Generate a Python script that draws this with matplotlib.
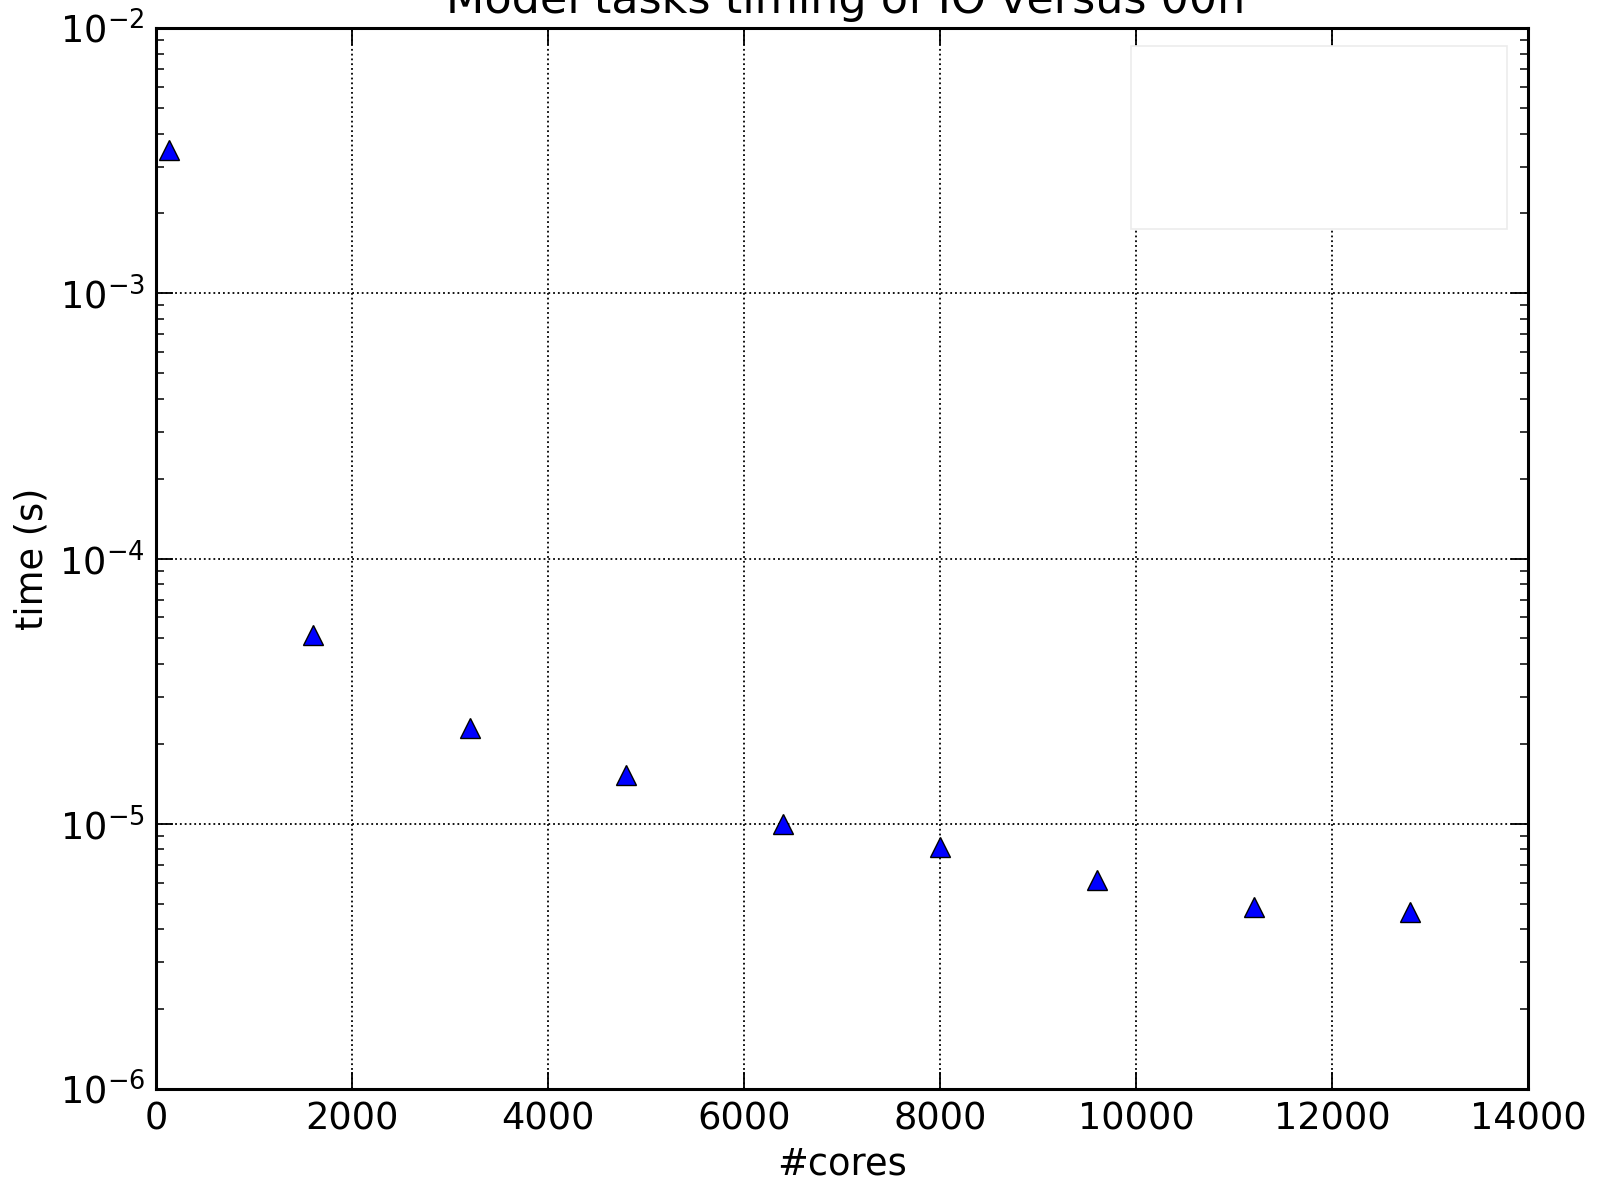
import matplotlib
matplotlib.use("Agg")
import matplotlib.pyplot as plt
from matplotlib.patches import Rectangle

# cores vs time per task
cores = [128, 1600, 3200, 4800, 6400, 8000, 9600, 11200, 12800]
times = [3.46e-3, 5.15e-5, 2.30e-5, 1.53e-5, 1.0e-5, 8.16e-6, 6.13e-6, 4.87e-6, 4.66e-6]

plt.rcParams['font.family'] = ['DejaVu Sans']
plt.rcParams['axes.unicode_minus'] = False
fig = plt.figure(figsize=(15.98, 11.8), dpi=100)
ax = fig.add_axes([156/1598, 1 - 1089/1180, 1372/1598, 1061/1180])

ax.semilogy(cores, times, linestyle="none", marker="^", markersize=14,
            markerfacecolor="#0000ff", markeredgecolor="black", markeredgewidth=1.0,
            zorder=5)

ax.set_xlim(0, 14000)
ax.set_ylim(1e-6, 1e-2)
ax.set_xticks(range(0, 14001, 2000))
ax.grid(True, which="major", linestyle=":", color="black", linewidth=1.3)

ax.tick_params(which="both", direction="in", top=True, right=True, labelsize=26.5, pad=8)
ax.tick_params(which="major", length=12, width=1.3)
ax.tick_params(which="minor", length=6, width=1.1)
for s in ax.spines.values():
    s.set_linewidth(2.2)

# empty legend box in the top right corner
ax.add_patch(Rectangle((0.711, 0.811), 0.274, 0.172, transform=ax.transAxes,
                       facecolor="white", edgecolor="#ececec", linewidth=1.2, zorder=4))

ax.set_xlabel("#cores", fontsize=26.5, labelpad=6)
ax.set_ylabel("time (s)", fontsize=26.5, labelpad=6)
# title sits partly above the top edge, as in the original
fig.text(0.529, 1.018, "Model tasks timing of IO versus 00n", ha="center", va="top", fontsize=32)

fig.savefig("out.png", dpi=100)
